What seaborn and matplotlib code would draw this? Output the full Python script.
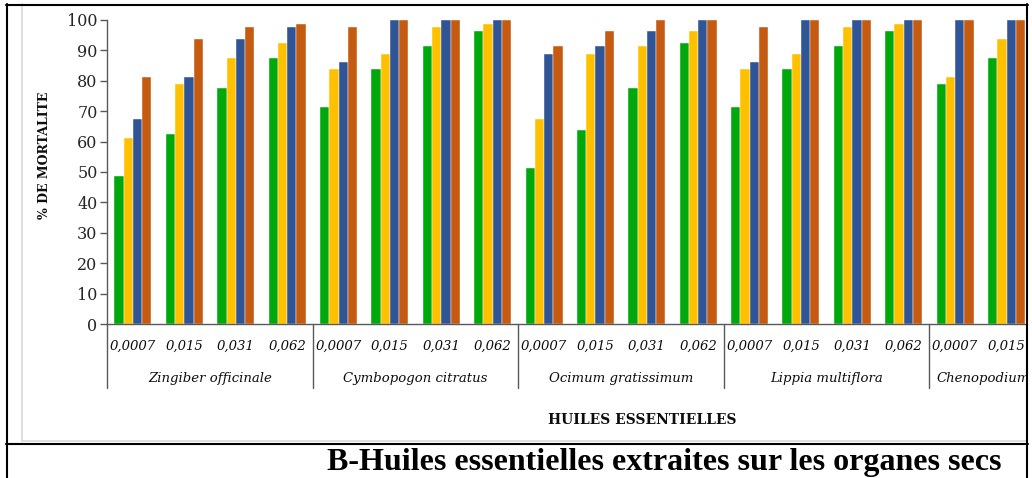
import matplotlib
matplotlib.use("Agg")
import matplotlib.pyplot as plt
from matplotlib.lines import Line2D
import seaborn as sns
import pandas as pd

# essential oils and tested concentrations (last species is cut off in the source)
species = ["Zingiber officinale", "Cymbopogon citratus", "Ocimum gratissimum",
           "Lippia multiflora", "Chenopodium"]
concentrations = ["0,0007", "0,015", "0,031", "0,062"]
n_visible = 18  # 4 groups x 4 species + 2 groups of Chenopodium

# % mortality, one list per series (green, yellow, blue, orange)
serie_1 = [48.75, 62.5, 77.5, 87.5, 71.25, 83.75, 91.25, 96.25, 51.25, 63.75,
           77.5, 92.5, 71.25, 83.75, 91.25, 96.25, 78.75, 87.5]
serie_2 = [61.25, 78.75, 87.5, 92.5, 83.75, 88.75, 97.5, 98.75, 67.5, 88.75,
           91.25, 96.25, 83.75, 88.75, 97.5, 98.75, 81.25, 93.75]
serie_3 = [67.5, 81.25, 93.75, 97.5, 86.25, 100, 100, 100, 88.75, 91.25,
           96.25, 100, 86.25, 100, 100, 100, 100, 100]
serie_4 = [81.25, 93.75, 97.5, 98.75, 97.5, 100, 100, 100, 91.25, 96.25,
           100, 100, 97.5, 100, 100, 100, 100, 100]
series = {"S1": serie_1, "S2": serie_2, "S3": serie_3, "S4": serie_4}
colors = ["#00A80C", "#FFC000", "#2F5597", "#C55A11"]

groups = [f"{species[i // 4]}|{concentrations[i % 4]}" for i in range(n_visible)]
rows = []
for name, vals in series.items():
    for g, v in zip(groups, vals):
        rows.append({"groupe": g, "serie": name, "mortalite": v})
df = pd.DataFrame(rows)

sns.set_theme(style="white")
plt.rcParams["font.family"] = ["DejaVu Serif"]

W, H = 1032, 478
fig = plt.figure(figsize=(W / 100, H / 100), dpi=100)

def fx(px):
    return px / W

def fy(py):
    return 1 - py / H

# chart-area border (light grey)
fig.add_artist(Line2D([fx(21.5), fx(21.5)], [fy(4), fy(441)], color="#d9d9d9", lw=1.2))
fig.add_artist(Line2D([fx(21.5), fx(1027)], [fy(441), fy(441)], color="#d9d9d9", lw=1.2))

ax = fig.add_axes([fx(107.3), fy(324.3), (1025 - 107.3) / W, 304.6 / H])
sns.barplot(data=df, x="groupe", y="mortalite", hue="serie", palette=colors,
            order=groups, width=0.72, gap=0, saturation=1, legend=False,
            edgecolor="white", linewidth=0.3, ax=ax)

ax.set_ylim(0, 100)
ax.set_xlim(-0.5, 17.36)
ax.set_yticks(range(0, 101, 10))
ax.tick_params(axis="y", left=True, length=5, width=1, color="#595959",
               labelsize=11.5, pad=2, labelcolor="#262626")
ax.tick_params(axis="x", bottom=False, labelbottom=False)
for s in ["top", "right"]:
    ax.spines[s].set_visible(False)
for s in ["left", "bottom"]:
    ax.spines[s].set_color("#595959")
    ax.spines[s].set_linewidth(1)

ax.set_ylabel("% DE MORTALITE", fontsize=9, fontweight="bold", color="#0d0d0d")
ax.yaxis.label.set_va("center")
ax.yaxis.set_label_coords(-0.068, 0.556)
ax.set_xlabel("HUILES ESSENTIELLES", fontsize=10, fontweight="bold", color="#0d0d0d")
ax.xaxis.label.set_va("center")
ax.xaxis.set_label_coords(0.583, -0.314)

# two-level category axis
trans = ax.get_xaxis_transform()
for i, g in enumerate(groups):
    ax.text(i, -0.072, g.split("|")[1], transform=trans, ha="center", va="center",
            fontsize=9.5, style="italic", color="#0d0d0d", clip_on=False)
for k in range(5):
    x0 = 4 * k - 0.5
    ax.plot([x0, x0], [0, -0.21], transform=trans, color="#595959", lw=1,
            clip_on=False)
    if k < 4:
        ax.text(x0 + 2, -0.177, species[k], transform=trans, ha="center",
                va="center", fontsize=9.5, style="italic", color="#0d0d0d",
                clip_on=False)
    else:
        ax.text(x0 + 0.13, -0.177, species[k], transform=trans, ha="left",
                va="center", fontsize=9.5, style="italic", color="#0d0d0d",
                clip_on=False)

# hide anything spilling past the right frame edge, then the table frame
fig.add_artist(plt.Rectangle((fx(1026), 0), 1 - fx(1026), 1, transform=fig.transFigure,
                             facecolor="white", edgecolor="none", zorder=10))
for xs, ys in [([fx(7), fx(7)], [fy(4), 0]),
               ([fx(6), fx(1028)], [fy(4.5), fy(4.5)]),
               ([fx(1027), fx(1027)], [fy(4), 0]),
               ([fx(6), fx(1028)], [fy(443.5), fy(443.5)])]:
    fig.add_artist(Line2D(xs, ys, color="black", lw=1.5, zorder=11))

fig.text(fx(664), fy(470), "B-Huiles essentielles extraites sur les organes secs",
         ha="center", va="baseline", fontsize=23, fontweight="bold",
         family=["Liberation Serif", "DejaVu Serif"], color="black")

fig.savefig("out.png", dpi=100)
